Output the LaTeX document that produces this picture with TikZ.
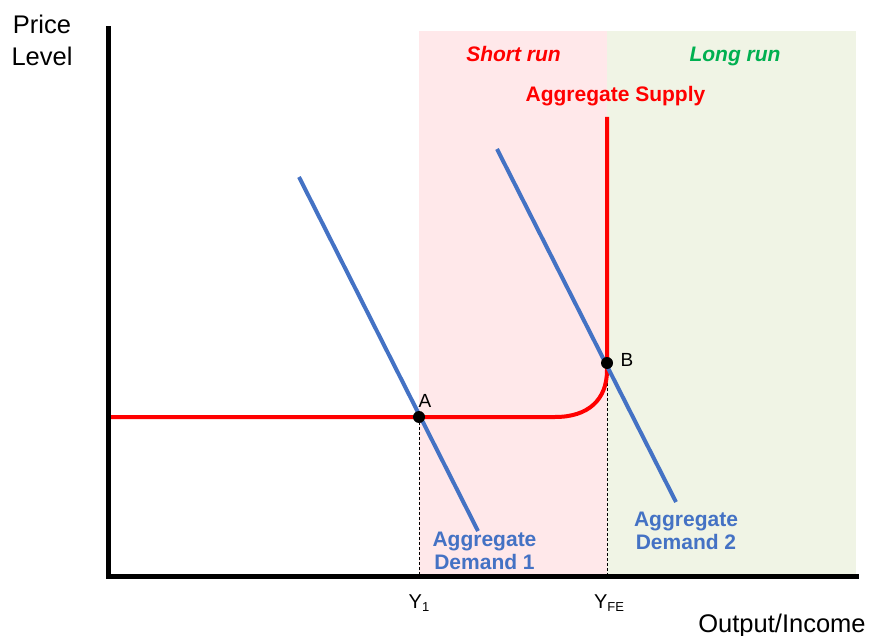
\documentclass[tikz,border=0pt]{standalone}
\usepackage{fontspec}
\setmainfont{Liberation Sans}
\definecolor{asred}{HTML}{FF0000}
\definecolor{adblue}{HTML}{4472C4}
\definecolor{lrgreen}{HTML}{00B050}
\definecolor{srbg}{HTML}{FFE8EA}
\definecolor{lrbg}{HTML}{F0F4E5}
\tikzset{
  axisline/.style={line width=5pt, black},
  asline/.style={line width=4pt, asred},
  adline/.style={line width=4pt, adblue},
  guide/.style={line width=0.8pt, black, dash pattern=on 3pt off 2pt},
  eqdot/.style={circle, fill=black, minimum size=12pt, inner sep=0pt},
  regtext/.style={font=\fontsize{25.5}{32}\selectfont, inner sep=0pt},
  boldlbl/.style={font=\fontsize{21}{23}\selectfont\bfseries, inner sep=0pt, align=center},
  ptlbl/.style={font=\fontsize{19}{22}\selectfont, inner sep=0pt, anchor=base},
  ticklbl/.style={font=\fontsize{20}{22}\selectfont, inner sep=0pt, anchor=base}
}
\begin{document}
\begin{tikzpicture}[x=1pt,y=-1pt]
\useasboundingbox (0,0) rectangle (875,636);
% backgrounds
\fill[srbg] (419,31) rectangle (607,576);
\fill[lrbg] (607,31) rectangle (856,576);
% region labels
\node[boldlbl, font=\fontsize{21}{23}\selectfont\bfseries\itshape, text=asred, anchor=base] (sr) at (513.5,62) {Short run};
\node[boldlbl, font=\fontsize{21}{23}\selectfont\bfseries\itshape, text=lrgreen, anchor=base] (lr) at (735,62) {Long run};
\node[boldlbl, text=asred, anchor=base] (asl) at (615.5,102) {Aggregate Supply};
% points
\coordinate (ptA) at (419,417);
\coordinate (ptB) at (607,363);
\coordinate (Y1) at (419,576);
\coordinate (YFE) at (607,576);
% guides
\draw[guide] (ptA) -- (Y1);
\draw[guide] (ptB) -- (YFE);
% aggregate supply
\coordinate (asstart) at (108,417);
\coordinate (asbend) at (555,417);
\coordinate (asup) at (607,370);
\coordinate (astop) at (607,117);
\draw[asline] (asstart) -- (asbend) .. controls (588,417) and (607,400) .. (asup) -- (astop);
% aggregate demand
\coordinate (ad1s) at (299,177);
\coordinate (ad1e) at (478,531);
\coordinate (ad2s) at (497,149);
\coordinate (ad2e) at (676,502);
\draw[adline] (ad1s) -- (ad1e);
\draw[adline] (ad2s) -- (ad2e);
% dots
\node[eqdot] (A) at (ptA) {};
\node[eqdot] (B) at (ptB) {};
\node[ptlbl] (Alab) at (425,407) {A};
\node[ptlbl] (Blab) at (627,366) {B};
% AD labels
\node[boldlbl, text=adblue] (ad1l) at (484.5,551) {Aggregate\\Demand 1};
\node[boldlbl, text=adblue] (ad2l) at (686,531) {Aggregate\\Demand 2};
% axes
\coordinate (orig) at (108,576);
\coordinate (ytop) at (108,29);
\coordinate (xend) at (856,576);
\draw[axisline, line cap=rect] (ytop) -- (orig) -- (xend);
% axis labels
\node[regtext, align=center, anchor=base] (plab) at (42,66) {Price\\Level};
\node[regtext, anchor=base] (olab) at (782,632) {Output/Income};
\node[ticklbl] (y1l) at (419,608) {Y\raisebox{-0.35ex}{\fontsize{13}{13}\selectfont 1}};
\node[ticklbl] (yfel) at (609,608) {Y\raisebox{-0.35ex}{\fontsize{13}{13}\selectfont FE}};
\end{tikzpicture}
\end{document}
